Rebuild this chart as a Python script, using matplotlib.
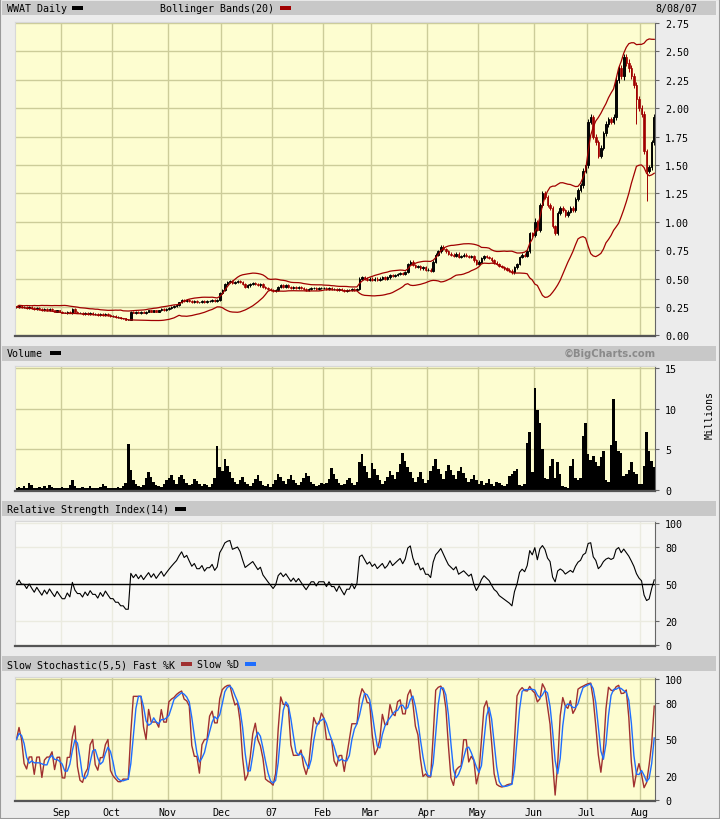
import numpy as np
import pandas as pd
import matplotlib
matplotlib.use("Agg")
import matplotlib.pyplot as plt
from matplotlib.patches import Rectangle

# NYSE trading days, 8 Aug 2006 - 8 Aug 2007
holidays = ["2006-09-04", "2006-11-23", "2006-12-25", "2007-01-01", "2007-01-02",
            "2007-01-15", "2007-02-19", "2007-04-06", "2007-05-28", "2007-07-04"]
days = pd.bdate_range("2006-08-08", "2007-08-08", freq="C", holidays=holidays)

# daily closes, month by month
close_aug06 = [0.25, 0.26, 0.25, 0.25, 0.24, 0.25, 0.24, 0.23, 0.24, 0.23, 0.22, 0.23,
               0.22, 0.23, 0.22, 0.21, 0.22, 0.21]
close_sep06 = [0.20, 0.20, 0.21, 0.20, 0.23, 0.21, 0.20, 0.20, 0.19, 0.20, 0.19, 0.20,
               0.19, 0.19, 0.18, 0.19, 0.18, 0.19, 0.18, 0.17]
close_oct06 = [0.17, 0.16, 0.16, 0.15, 0.15, 0.14, 0.14, 0.21, 0.20, 0.21, 0.20, 0.21,
               0.20, 0.21, 0.22, 0.21, 0.22, 0.21, 0.22, 0.23, 0.22, 0.23]
close_nov06 = [0.24, 0.25, 0.26, 0.27, 0.29, 0.31, 0.30, 0.31, 0.30, 0.29, 0.30, 0.29,
               0.29, 0.30, 0.29, 0.30, 0.30, 0.31, 0.30, 0.31, 0.37]
close_dec06 = [0.40, 0.45, 0.47, 0.48, 0.46, 0.47, 0.48, 0.47, 0.45, 0.43, 0.44, 0.45,
               0.46, 0.45, 0.44, 0.45, 0.43, 0.42, 0.41, 0.40]
close_jan07 = [0.39, 0.40, 0.43, 0.44, 0.43, 0.44, 0.43, 0.42, 0.43, 0.42, 0.43, 0.42,
               0.41, 0.40, 0.41, 0.42, 0.42, 0.41, 0.42, 0.42]
close_feb07 = [0.42, 0.41, 0.42, 0.41, 0.41, 0.40, 0.41, 0.40, 0.39, 0.40, 0.40, 0.41,
               0.40, 0.41, 0.50, 0.51, 0.50, 0.49, 0.50]
close_mar07 = [0.49, 0.50, 0.49, 0.50, 0.51, 0.50, 0.51, 0.53, 0.52, 0.53, 0.54, 0.55,
               0.54, 0.56, 0.63, 0.65, 0.62, 0.60, 0.61, 0.59, 0.60, 0.58]
close_apr07 = [0.58, 0.57, 0.65, 0.71, 0.74, 0.78, 0.76, 0.74, 0.72, 0.71, 0.70, 0.72,
               0.69, 0.70, 0.71, 0.70, 0.69, 0.70, 0.66, 0.63]
close_may07 = [0.65, 0.68, 0.70, 0.69, 0.68, 0.66, 0.64, 0.63, 0.61, 0.60, 0.59, 0.58,
               0.57, 0.555, 0.60, 0.63, 0.69, 0.71, 0.70, 0.74, 0.90, 0.88]
close_jun07 = [1.00, 0.93, 1.15, 1.25, 1.22, 1.15, 1.12, 0.96, 0.90, 1.08, 1.12, 1.10,
               1.06, 1.09, 1.12, 1.10, 1.20, 1.28, 1.32, 1.45, 1.50]
close_jul07 = [1.88, 1.92, 1.75, 1.70, 1.58, 1.65, 1.78, 1.86, 1.90, 1.88, 1.92, 2.25,
               2.35, 2.28, 2.45, 2.40, 2.35, 2.28, 2.20, 2.08, 2.00]
close_aug07 = [1.95, 1.62, 1.45, 1.48, 1.70, 1.92]

# a few long shadows (day index: (high, low))
wicks = {204: (1.03, 0.90), 236: (2.27, 1.90), 244: (2.10, 1.86), 248: (1.50, 1.18)}
# usual intraday reach beyond the candle body: half a cent plus ~1% of price
tick, reach = 0.005, 0.01

# daily volume, millions
vol_aug06 = [0.3, 0.4, 0.2, 0.5, 0.3, 0.9, 0.6, 0.3, 0.2, 0.4, 0.3, 0.5, 0.2, 0.6, 0.4, 0.3, 0.2, 0.3]
vol_sep06 = [0.4, 0.2, 0.3, 0.6, 1.2, 0.5, 0.3, 0.2, 0.4, 0.3, 0.2, 0.5, 0.3, 0.2, 0.3, 0.4, 0.8, 0.5,
             0.3, 0.2]
vol_oct06 = [0.3, 0.2, 0.4, 0.3, 0.5, 0.9, 5.6, 2.5, 1.2, 0.8, 0.5, 0.4, 0.6, 1.5, 2.2, 1.6, 1.0, 0.6,
             0.5, 0.4, 0.8, 1.2]
vol_nov06 = [1.5, 1.8, 1.2, 0.8, 1.6, 1.9, 1.3, 0.9, 0.6, 0.8, 1.3, 1.1, 0.7, 0.5, 0.8, 0.6, 0.4, 0.7,
             1.5, 5.4, 2.8]
vol_dec06 = [2.4, 3.8, 2.9, 2.2, 1.5, 1.0, 0.8, 1.2, 1.6, 1.0, 0.7, 0.5, 0.9, 1.4, 1.8, 1.1, 0.6, 0.5,
             0.8, 0.4]
vol_jan07 = [0.7, 1.2, 2.0, 1.6, 1.1, 0.8, 1.4, 1.8, 1.2, 0.9, 0.6, 1.0, 1.5, 2.1, 1.7, 1.0, 0.8, 0.5,
             0.6, 0.9]
vol_feb07 = [0.7, 0.9, 1.4, 2.7, 2.0, 1.3, 0.9, 0.6, 0.8, 1.2, 1.5, 0.9, 0.6, 1.0, 3.5, 4.4, 3.0, 2.2,
             1.5]
vol_mar07 = [3.3, 2.6, 1.8, 1.2, 0.8, 1.1, 1.6, 2.4, 1.9, 1.4, 2.2, 3.2, 4.5, 3.6, 2.8, 2.2, 1.5, 1.0,
             1.6, 2.2, 1.4, 0.9]
vol_apr07 = [1.2, 2.3, 3.0, 3.8, 2.6, 2.0, 1.4, 2.4, 3.1, 2.5, 1.8, 1.3, 2.3, 2.8, 2.1, 1.5, 1.0, 1.3,
             1.8, 1.2]
vol_may07 = [0.8, 1.1, 0.6, 0.9, 1.4, 0.8, 0.5, 1.0, 0.9, 0.6, 0.5, 0.8, 1.7, 2.0, 2.4, 2.6, 0.6, 0.5,
             0.7, 5.8, 7.1, 2.2]
vol_jun07 = [12.6, 9.9, 8.3, 5.0, 1.5, 1.4, 3.0, 3.8, 1.5, 3.5, 2.0, 0.5, 0.4, 0.3, 3.0, 3.8, 1.5, 1.2,
             1.5, 6.6, 8.2]
vol_jul07 = [4.4, 3.7, 4.2, 3.5, 3.0, 4.0, 4.8, 1.2, 1.0, 5.5, 11.2, 6.0, 4.8, 4.5, 1.7, 2.0, 2.5, 3.4,
             2.2, 2.0, 0.7]
vol_aug07 = [0.7, 3.0, 7.1, 4.8, 3.6, 2.8]

month_labels = ["Sep", "Oct", "Nov", "Dec", "07", "Feb", "Mar", "Apr", "May", "Jun", "Jul", "Aug"]
price_ticks = [0.0, 0.25, 0.5, 0.75, 1.0, 1.25, 1.5, 1.75, 2.0, 2.25, 2.5, 2.75]
vol_ticks = [0, 5, 10, 15]
osc_ticks = [0, 20, 50, 80, 100]

close = pd.Series(close_aug06 + close_sep06 + close_oct06 + close_nov06 + close_dec06 + close_jan07
                  + close_feb07 + close_mar07 + close_apr07 + close_may07 + close_jun07 + close_jul07
                  + close_aug07)
volume = np.array(vol_aug06 + vol_sep06 + vol_oct06 + vol_nov06 + vol_dec06 + vol_jan07 + vol_feb07
                  + vol_mar07 + vol_apr07 + vol_may07 + vol_jun07 + vol_jul07 + vol_aug07)
n = len(close)
x = np.arange(n)

opn = close.shift(1).fillna(close[0])
high = np.maximum(opn, close) + tick + reach * close
low = np.minimum(opn, close) - tick - reach * close
for k, (h, l) in wicks.items():
    high[k] = max(high[k], h)
    low[k] = min(low[k], l)

# indicators
mid = close.rolling(20, min_periods=1).mean()
sd = close.rolling(20, min_periods=1).std(ddof=0).fillna(0)
bb_up = mid + 2 * sd
bb_dn = mid - 2 * sd

# Wilder RSI, seeded with a neutral start
delta = close.diff().fillna(0).to_numpy()
ag, al = 0.006, 0.006
rsi = []
for d in delta:
    ag = (ag * 13 + max(d, 0)) / 14
    al = (al * 13 + max(-d, 0)) / 14
    rsi.append(100 * ag / (ag + al))
rsi = np.array(rsi)

ll = low.rolling(5, min_periods=1).min()
hh = high.rolling(5, min_periods=1).max()
fast_k = (100 * (close - ll) / (hh - ll)).fillna(50)
k_line = fast_k.rolling(2, min_periods=1).mean()
d_line = k_line.rolling(3, min_periods=1).mean()

month_start = [i for i in range(1, n) if days[i].month != days[i - 1].month]

# ---- layout in pixels ----
W, H = 720, 820
fig = plt.figure(figsize=(W / 100, H / 100), dpi=100, facecolor="#ececec")
mono = "DejaVu Sans Mono"
FS = 7.2
RED = "#a00000"
GRID = "#cccc99"


def box(x0, y0, x1, y1):
    return [x0 / W, 1 - y1 / H, (x1 - x0) / W, (y1 - y0) / H]


def bar(y0, y1):
    fig.add_artist(Rectangle((2 / W, 1 - y1 / H), 714 / W, (y1 - y0) / H, transform=fig.transFigure,
                             facecolor="#c8c8c8", edgecolor="none"))


def swatch(x0, yc, color):
    fig.add_artist(Rectangle((x0 / W, 1 - (yc + 2) / H), 11 / W, 4 / H, transform=fig.transFigure,
                             facecolor=color, edgecolor="none"))


def label(xp, yp, s, **kw):
    fig.text(xp / W, 1 - yp / H, s, fontsize=FS, family=mono, va="center", **kw)


L, R = 15.2, 655.5


def panel(top, bot, bg="#fdfdd0", grid=GRID):
    ax = fig.add_axes(box(L, top, R, bot))
    ax.set_facecolor(bg)
    ax.set_xlim(-0.5, n - 0.5)
    for s in ["top", "left"]:
        ax.spines[s].set_color("#d8d8d8")
    ax.spines["right"].set_color("#666666")
    ax.spines["bottom"].set_color("#555555")
    ax.spines["bottom"].set_linewidth(1.6)
    ax.yaxis.tick_right()
    ax.tick_params(axis="y", length=3, width=0.8, color="#666666", labelsize=FS, pad=4)
    ax.set_xticks([m - 0.5 for m in month_start])
    ax.tick_params(axis="x", length=0, labelbottom=False)
    ax.grid(color=grid, lw=1)
    ax.set_axisbelow(True)
    return ax


# price panel
bar(2, 16)
label(7, 9, "WWAT Daily")
swatch(72, 9, "black")
label(160, 9, "Bollinger Bands(20)")
swatch(280, 9, RED)
label(697, 9, "8/08/07", ha="right")

ax1 = panel(22.5, 337)
ax1.set_ylim(-0.005, 2.762)
ax1.set_yticks(price_ticks)
ax1.set_yticklabels([f"{v:.2f}" for v in price_ticks], family=mono)
up = close >= opn
ax1.vlines(x[up], low[up], high[up], color="black", lw=0.7)
ax1.vlines(x[~up], low[~up], high[~up], color=RED, lw=0.7)
ax1.bar(x[up], (close - opn)[up], bottom=opn[up], width=0.6, facecolor="#fdfdd0", edgecolor="black",
        linewidth=0.7)
ax1.bar(x[~up], (opn - close)[~up], bottom=close[~up], width=0.6, facecolor=RED, edgecolor=RED,
        linewidth=0.5)
ax1.plot(x, bb_up, color=RED, lw=0.9)
ax1.plot(x, bb_dn, color=RED, lw=0.9)

# volume panel
bar(347, 362)
label(7, 354, "Volume")
swatch(50, 354, "black")
fig.text(656 / W, 1 - 354 / H, "\u00a9BigCharts.com", fontsize=FS, fontweight="bold", color="#8a8a8a",
         ha="right", va="center", family="DejaVu Sans")
ax2 = panel(367, 492)
ax2.set_ylim(-0.12, 15.25)
ax2.set_yticks(vol_ticks)
ax2.set_yticklabels([str(v) for v in vol_ticks], family=mono)
ax2.bar(x, volume, width=1.0, color="black", linewidth=0)
fig.text(710 / W, 1 - 415 / H, "Millions", rotation=90, fontsize=FS, family=mono, ha="center",
         va="center")

# RSI panel
bar(502, 517)
label(7, 510, "Relative Strength Index(14)")
swatch(175, 510, "black")
ax3 = panel(522, 647, bg="#f9f9f7", grid="#ebebe0")
ax3.set_ylim(-0.8, 101.6)
ax3.set_yticks(osc_ticks)
ax3.set_yticklabels([str(v) for v in osc_ticks], family=mono)
ax3.axhline(50, color="black", lw=1)
ax3.plot(x, rsi, color="black", lw=0.8)

# stochastic panel
bar(657, 672)
label(7, 665, "Slow Stochastic(5,5) Fast %K")
swatch(181, 665, "#a03030")
label(197, 665, "Slow %D")
swatch(245, 665, "#1e6eff")
ax4 = panel(678, 802)
ax4.set_ylim(-0.8, 101.6)
ax4.set_yticks(osc_ticks)
ax4.set_yticklabels([str(v) for v in osc_ticks], family=mono)
ax4.plot(x, k_line, color="#a03030", lw=1)
ax4.plot(x, d_line, color="#1e6eff", lw=1)
ax4.set_xticklabels(month_labels, family=mono)
ax4.tick_params(axis="x", labelbottom=True, labelsize=FS, pad=4)

# outer frame
fig.add_artist(Rectangle((0, 0), 1, 1, transform=fig.transFigure, facecolor="none",
                         edgecolor="#9a9a9a", lw=1.5))

fig.savefig("out.png", dpi=100, facecolor=fig.get_facecolor())
